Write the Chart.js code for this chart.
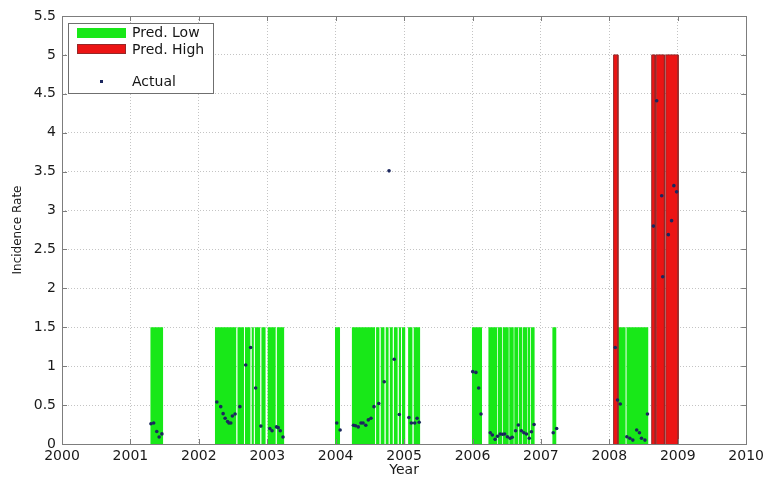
<!DOCTYPE html>
<html>
<head>
<meta charset="utf-8">
<script src="https://cdn.jsdelivr.net/npm/chart.js@4"></script>
<style>
    html, body { margin: 0; padding: 0; background: #fff; }
    #wrap { width: 768px; height: 480px; position: relative; }
</style>
</head>
<body>
<div id="wrap"><canvas id="incidence"></canvas></div>
<script>
const xTicks = [2000, 2001, 2002, 2003, 2004, 2005, 2006, 2007, 2008, 2009, 2010];
const yTicks = [0, 0.5, 1, 1.5, 2, 2.5, 3, 3.5, 4, 4.5, 5, 5.5];

// predicted low periods (start / end, decimal year)
const lowLevel = 1.5;
const lowStart = [
    2001.29,
    2002.234, 2002.562, 2002.672, 2002.769, 2002.817, 2002.912, 2003.003, 2003.137,
    2003.99,
    2004.234, 2004.59, 2004.655, 2004.728, 2004.788, 2004.848, 2004.92, 2004.967, 2005.058, 2005.137,
    2005.99,
    2006.23, 2006.366, 2006.439, 2006.536, 2006.609, 2006.672, 2006.73, 2006.802, 2006.85,
    2007.165,
    2008.12, 2008.248
];
const lowEnd = [
    2001.48,
    2002.55, 2002.66, 2002.757, 2002.805, 2002.90, 2002.978, 2003.125, 2003.25,
    2004.065,
    2004.578, 2004.643, 2004.716, 2004.776, 2004.836, 2004.908, 2004.955, 2005.02, 2005.125, 2005.237,
    2006.14,
    2006.361, 2006.434, 2006.531, 2006.604, 2006.667, 2006.725, 2006.797, 2006.845, 2006.91,
    2007.228,
    2008.24, 2008.572
];

// predicted high periods
const highLevel = 5;
const highStart = [2008.062, 2008.619, 2008.683, 2008.825];
const highEnd = [2008.125, 2008.67, 2008.805, 2009.005];

// observed incidence
const actualYear = [
    2001.30, 2001.34, 2001.385, 2001.42, 2001.46,
    2002.263, 2002.32, 2002.355, 2002.384, 2002.42, 2002.44, 2002.467, 2002.49, 2002.53, 2002.60,
    2002.685, 2002.757, 2002.83, 2002.907,
    2003.038, 2003.07, 2003.135, 2003.16, 2003.19, 2003.23,
    2004.016, 2004.065, 2004.26, 2004.29, 2004.33, 2004.37, 2004.40, 2004.44, 2004.477, 2004.516,
    2004.56, 2004.63, 2004.71, 2004.78, 2004.855, 2004.93,
    2005.07, 2005.106, 2005.155, 2005.19, 2005.22,
    2006.003, 2006.05, 2006.09, 2006.124, 2006.26, 2006.29, 2006.33, 2006.366, 2006.405, 2006.44,
    2006.47, 2006.51, 2006.55, 2006.58, 2006.63, 2006.67, 2006.715, 2006.75, 2006.79, 2006.83,
    2006.86, 2006.90,
    2007.18, 2007.23,
    2008.086, 2008.12, 2008.16, 2008.256, 2008.30, 2008.343, 2008.40, 2008.44, 2008.47, 2008.52,
    2008.557, 2008.644, 2008.692, 2008.765, 2008.78, 2008.862, 2008.91, 2008.943, 2008.983
];
const actualRate = [
    0.26, 0.27, 0.16, 0.09, 0.13,
    0.54, 0.48, 0.39, 0.33, 0.29, 0.27, 0.27, 0.36, 0.385, 0.48,
    1.015, 1.24, 0.72, 0.23,
    0.20, 0.17, 0.22, 0.21, 0.17, 0.09,
    0.27, 0.18, 0.24, 0.235, 0.22, 0.27, 0.27, 0.24, 0.31, 0.33,
    0.48, 0.52, 0.80, 3.51, 1.09, 0.38,
    0.34, 0.27, 0.27, 0.33, 0.28,
    0.93, 0.92, 0.72, 0.385, 0.145, 0.116, 0.06, 0.10, 0.128, 0.125,
    0.128, 0.094, 0.073, 0.086, 0.17, 0.244, 0.17, 0.145, 0.128, 0.073,
    0.158, 0.25,
    0.145, 0.20,
    1.24, 0.565, 0.514, 0.094, 0.073, 0.05, 0.18, 0.145, 0.073, 0.05,
    0.385, 2.80, 4.41, 3.19, 2.15, 2.69, 2.87, 3.32, 3.24
];

const lowColor = 'rgb(24, 232, 24)';
const highColor = 'rgb(236, 20, 20)';
const highEdge = 'rgb(150, 40, 40)';
const dotColor = '#1b275e';
const fontFamily = '"DejaVu Sans", sans-serif';

// each period becomes a closed block filled down to zero
const toBlocks = (starts, ends, level) => {
    const pts = [];
    starts.forEach((s, i) => {
        pts.push({ x: s, y: 0 }, { x: s, y: level }, { x: ends[i], y: level }, { x: ends[i], y: 0 }, { x: ends[i], y: null });
    });
    return pts;
};

const matlabFrame = {
    id: 'matlabFrame',
    afterDraw(chart) {
        const { ctx, chartArea: a, scales: { x, y } } = chart;
        ctx.save();
        ctx.setLineDash([]);
        ctx.strokeStyle = '#7d7d7d';
        ctx.lineWidth = 1;
        ctx.strokeRect(Math.round(a.left) + 0.5, Math.round(a.top) + 0.5, Math.round(a.right - a.left), Math.round(a.bottom - a.top));

        ctx.beginPath();
        xTicks.forEach(v => {
            const px = Math.round(x.getPixelForValue(v)) + 0.5;
            ctx.moveTo(px, a.bottom); ctx.lineTo(px, a.bottom - 5);
            ctx.moveTo(px, a.top); ctx.lineTo(px, a.top + 5);
        });
        yTicks.forEach(v => {
            const py = Math.round(y.getPixelForValue(v)) + 0.5;
            ctx.moveTo(a.left, py); ctx.lineTo(a.left + 5, py);
            ctx.moveTo(a.right, py); ctx.lineTo(a.right - 5, py);
        });
        ctx.stroke();

        // legend box, top left inside the axes
        const ds = chart.data.datasets;
        ctx.fillStyle = '#fff';
        ctx.fillRect(68, 23, 145, 70);
        ctx.strokeStyle = '#6f6f6f';
        ctx.strokeRect(68.5, 23.5, 145, 70);

        ctx.fillStyle = lowColor;
        ctx.fillRect(77, 28, 49, 10);
        ctx.fillStyle = highColor;
        ctx.fillRect(77, 44, 49, 10);
        ctx.strokeStyle = highEdge;
        ctx.strokeRect(77.5, 44.5, 48, 9);
        ctx.fillStyle = dotColor;
        ctx.fillRect(100, 80, 3, 3);

        ctx.fillStyle = '#151515';
        ctx.font = '14px ' + fontFamily;
        ctx.textBaseline = 'middle';
        ctx.textAlign = 'left';
        ctx.fillText(ds[2].label, 132, 33);
        ctx.fillText(ds[1].label, 132, 50);
        ctx.fillText(ds[0].label, 132, 82);
        ctx.restore();
    }
};

new Chart(document.getElementById('incidence'), {
    type: 'line',
    data: {
        datasets: [{
            type: 'scatter',
            label: 'Actual',
            data: actualYear.map((yr, i) => ({ x: yr, y: actualRate[i] })),
            pointRadius: 1.8,
            pointBorderWidth: 0,
            pointBackgroundColor: dotColor,
            showLine: false
        }, {
            label: 'Pred. High',
            data: toBlocks(highStart, highEnd, highLevel),
            borderColor: highEdge,
            borderWidth: 1,
            backgroundColor: highColor,
            fill: 'origin',
            pointRadius: 0,
            spanGaps: false
        }, {
            label: 'Pred. Low',
            data: toBlocks(lowStart, lowEnd, lowLevel),
            borderWidth: 0,
            borderColor: lowColor,
            backgroundColor: lowColor,
            fill: 'origin',
            pointRadius: 0,
            spanGaps: false
        }]
    },
    options: {
        responsive: true,
        maintainAspectRatio: false,
        animation: false,
        layout: { padding: { left: 0, right: 18, top: 16, bottom: 0 } },
        plugins: {
            legend: { display: false },
            tooltip: { enabled: false }
        },
        scales: {
            x: {
                type: 'linear',
                min: 2000,
                max: 2010,
                afterBuildTicks: s => { s.ticks = xTicks.map(v => ({ value: v })); },
                afterFit: s => { s.height = 36; },
                ticks: {
                    callback: v => String(v),
                    color: '#1a1a1a',
                    font: { family: fontFamily, size: 14 },
                    padding: 4,
                    maxRotation: 0
                },
                grid: { color: '#c4c4c4', drawTicks: false },
                border: { display: false, dash: [1, 2] },
                title: {
                    display: true,
                    text: 'Year',
                    color: '#1a1a1a',
                    font: { family: fontFamily, size: 14 },
                    padding: { top: 0, bottom: 1 }
                }
            },
            y: {
                min: 0,
                max: 5.5,
                afterBuildTicks: s => { s.ticks = yTicks.map(v => ({ value: v })); },
                afterFit: s => { s.width = 62; },
                ticks: {
                    callback: v => String(v),
                    color: '#1a1a1a',
                    font: { family: fontFamily, size: 14 },
                    padding: 6
                },
                grid: { color: '#c4c4c4', drawTicks: false },
                border: { display: false, dash: [1, 2] },
                title: {
                    display: true,
                    text: 'Incidence Rate',
                    color: '#1a1a1a',
                    font: { family: fontFamily, size: 12 },
                    padding: { top: 11, bottom: 0 }
                }
            }
        }
    },
    plugins: [matlabFrame]
});
</script>
</body>
</html>
